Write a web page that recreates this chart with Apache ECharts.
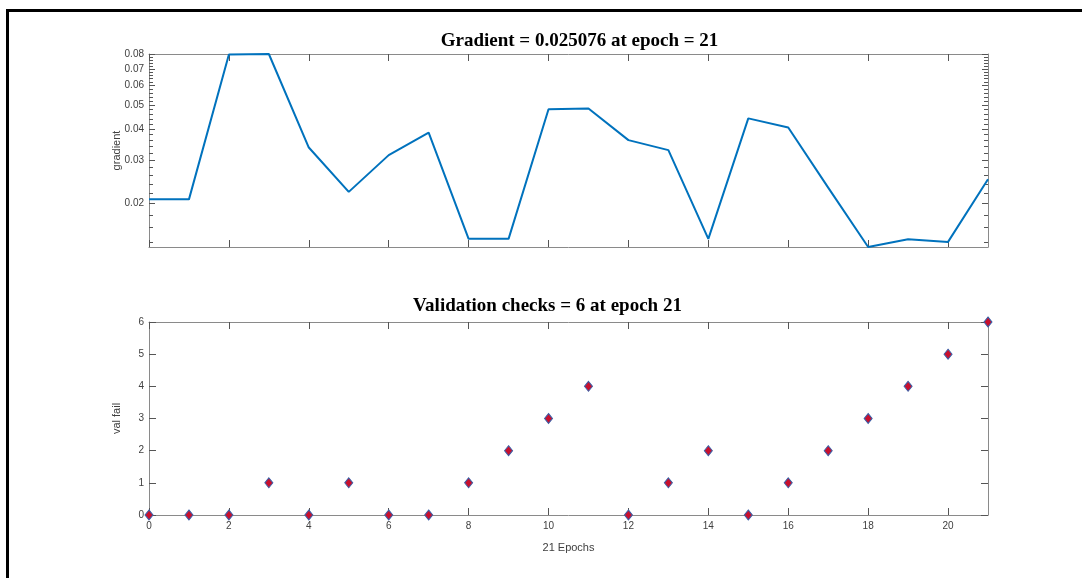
<!DOCTYPE html>
<html><head><meta charset="utf-8">
<script src="https://cdn.jsdelivr.net/npm/echarts@6/dist/echarts.min.js"></script>
<style>html,body{margin:0;padding:0;background:#fff}#c{width:1082px;height:578px}</style>
</head><body><div id="c"></div>
<script>
const epochs = [0,1,2,3,4,5,6,7,8,9,10,11,12,13,14,15,16,17,18,19,20,21];
const gradient = [0.0208,0.0208,0.0802,0.0805,0.0337,0.0223,0.0314,0.0387,0.0144,0.0144,0.0481,0.0485,0.0361,0.0329,0.0144,0.0442,0.0406,0.0232,0.01335,0.01434,0.0140,0.025076];
const valFail = [0,0,0,1,0,1,0,0,1,2,3,4,0,1,2,0,1,2,3,4,5,6];
const gradMajorTicks = [0.02,0.03,0.04,0.05,0.06,0.07,0.08];
const gradMinorTicks = [0.014,0.016,0.018,0.022,0.024,0.026,0.028,0.032,0.034,0.036,0.038,0.042,0.044,0.046,0.048,0.052,0.054,0.056,0.058,0.062,0.064,0.066,0.068,0.072,0.074,0.076,0.078];
const epochTicks = [0,2,4,6,8,10,12,14,16,18,20];
const valTicks = [0,1,2,3,4,5,6];
const titleTop = 'Gradient = 0.025076 at epoch = 21';
const titleBottom = 'Validation checks = 6 at epoch 21';

const AX = '#8a8a8a', LBL = '#404040';
const gMin = Math.min(...gradient), gMax = Math.max(...gradient);
const lMin = Math.log10(gMin), lMax = Math.log10(gMax);
const nameStyle = {color: LBL, fontFamily: 'Liberation Sans', fontSize: 11};

function xAx(grid, pos, labels, name) {
  return {
    type: 'value', gridIndex: grid, position: pos, min: 0, max: 21,
    axisLine: {show: true, onZero: false, lineStyle: {color: AX, width: 1}},
    axisTick: {show: true, inside: true, length: 7, customValues: epochTicks, lineStyle: {color: '#555'}},
    axisLabel: {show: labels, customValues: epochTicks, color: LBL, fontFamily: 'Liberation Sans', fontSize: 10, margin: 6},
    splitLine: {show: false},
    name: name || '', nameLocation: 'middle', nameGap: 27, nameMoveOverlap: false,
    nameTextStyle: nameStyle
  };
}
function tickAx(pos, vals, len, labels, name) {
  return {
    type: 'value', gridIndex: 0, position: pos, min: lMin, max: lMax,
    axisLine: {show: false, onZero: false},
    axisTick: {show: true, inside: true, length: len, customValues: vals.map(Math.log10), lineStyle: {color: '#555'}},
    axisLabel: {show: labels, customValues: vals.map(Math.log10), color: LBL, fontFamily: 'Liberation Sans', fontSize: 10, margin: 5,
      formatter: v => Math.pow(10, v).toFixed(2)},
    splitLine: {show: false},
    name: name || '', nameLocation: 'middle', nameGap: 27, nameMoveOverlap: false,
    nameTextStyle: nameStyle
  };
}
function valAx(pos, labels, name) {
  return {
    type: 'value', gridIndex: 1, position: pos, min: 0, max: 6, interval: 1,
    axisLine: {show: true, onZero: false, lineStyle: {color: AX, width: 1}},
    axisTick: {show: true, inside: true, length: 7, customValues: valTicks, lineStyle: {color: '#555'}},
    axisLabel: {show: labels, customValues: valTicks, color: LBL, fontFamily: 'Liberation Sans', fontSize: 10, margin: 5},
    splitLine: {show: false},
    name: name || '', nameLocation: 'middle', nameGap: 27, nameMoveOverlap: false,
    nameTextStyle: nameStyle
  };
}

const chart = echarts.init(document.getElementById('c'), null, {renderer: 'canvas'});
chart.setOption({
  animation: false,
  backgroundColor: '#fff',
  title: [
    {text: titleTop, left: 574.5, top: 27, textAlign: 'center',
     textStyle: {fontFamily: 'Liberation Serif', fontWeight: 'bold', fontSize: 19, color: '#000'}},
    {text: titleBottom, left: 542.5, top: 292, textAlign: 'center',
     textStyle: {fontFamily: 'Liberation Serif', fontWeight: 'bold', fontSize: 19, color: '#000'}}
  ],
  graphic: [{type: 'rect', shape: {x: 7.5, y: 10.5, width: 1200, height: 700},
    style: {fill: 'none', stroke: '#000', lineWidth: 3}, silent: true, z: 100}],
  grid: [
    {left: 149, top: 54, width: 839, height: 193, containLabel: false},
    {left: 149, top: 322, width: 839, height: 193, containLabel: false}
  ],
  xAxis: [
    xAx(0, 'bottom', false), xAx(0, 'top', false),
    xAx(1, 'bottom', true, '21 Epochs'), xAx(1, 'top', false)
  ],
  yAxis: [
    {type: 'log', logBase: 10, gridIndex: 0, position: 'left', min: gMin, max: gMax,
     axisLine: {show: true, onZero: false, lineStyle: {color: AX}}, axisTick: {show: false},
     axisLabel: {show: false}, splitLine: {show: false}, minorTick: {show: false}},
    tickAx('left', gradMajorTicks, 6, true, 'gradient'),
    tickAx('left', gradMinorTicks, 4, false),
    {type: 'log', logBase: 10, gridIndex: 0, position: 'right', min: gMin, max: gMax,
     axisLine: {show: true, onZero: false, lineStyle: {color: AX}}, axisTick: {show: false},
     axisLabel: {show: false}, splitLine: {show: false}},
    tickAx('right', gradMajorTicks, 6, false),
    tickAx('right', gradMinorTicks, 4, false),
    valAx('left', true, 'val fail'),
    valAx('right', false)
  ],
  series: [
    {type: 'line', xAxisIndex: 0, yAxisIndex: 0, data: epochs.map((e, i) => [e, gradient[i]]),
     symbol: 'none', clip: false, lineStyle: {color: '#0072BD', width: 2}},
    {type: 'scatter', xAxisIndex: 2, yAxisIndex: 6, data: epochs.map((e, i) => [e, valFail[i]]),
     symbol: 'diamond', symbolSize: [8, 10], clip: false,
     itemStyle: {color: '#C8102E', borderColor: '#3A5FA8', borderWidth: 1, opacity: 1}}
  ]
});
</script></body></html>
